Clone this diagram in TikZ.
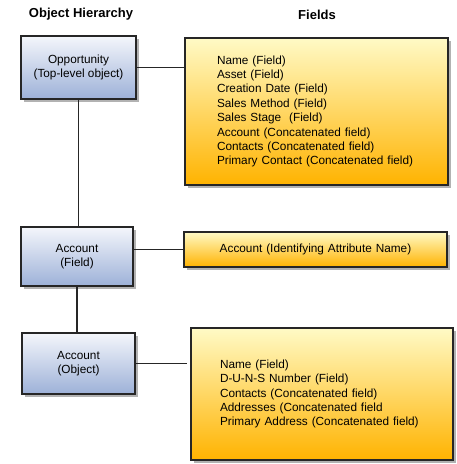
\documentclass[tikz,border=0pt]{standalone}
\usepackage{fontspec}
\setmainfont{Liberation Sans}
\usepackage{tikz}
\usetikzlibrary{shadows}

\definecolor{blauoben}{HTML}{F4F6FB}
\definecolor{blauunten}{HTML}{9DB1D8}
\definecolor{gelboben}{HTML}{FFFAC6}
\definecolor{gelbunten}{HTML}{FFB300}

\begin{document}
\begin{tikzpicture}[x=1pt, y=-1pt, % Pixelraster der Vorlage
  objbox/.style={draw=black!85, line width=1.2pt, top color=blauoben, bottom color=blauunten,
    drop shadow={shadow xshift=3pt, shadow yshift=-3pt, fill=black!30, opacity=1},
    align=center, inner sep=0pt, font=\fontsize{11.8}{14}\selectfont},
  feldbox/.style={draw=black!85, line width=1.2pt, top color=gelboben, bottom color=gelbunten,
    drop shadow={shadow xshift=3pt, shadow yshift=-3pt, fill=black!30, opacity=1},
    align=left, inner ysep=0pt, inner xsep=32pt, font=\fontsize{11.8}{14.4}\selectfont},
  titel/.style={anchor=base, font=\fontsize{13}{15}\selectfont\bfseries},
  verbindung/.style={line width=1.1pt, black!85}]

  \useasboundingbox (0,0) rectangle (456,464);

  % Ueberschriften
  \node[titel] (hierarchie) at (81, 17.5) {Object Hierarchy};
  \node[titel] (felder) at (317, 19.5) {Fields};

  % Objekte links
  \node[objbox, minimum width=115, minimum height=63] (opp) at (78.5, 67.5) {Opportunity\\(Top-level object)};
  \node[objbox, minimum width=112, minimum height=59] (accfeld) at (77, 256.5) {Account\\(Field)};
  \node[objbox, minimum width=113, minimum height=61] (accobj) at (78.5, 363.5) {Account\\(Object)};

  % Felder rechts
  \node[feldbox, text width=199, minimum height=147] (oppfelder) at (316.5, 111.5) {Name (Field)\\Asset (Field)\\Creation Date (Field)\\Sales Method (Field)\\Sales Stage~~(Field)\\Account (Concatenated field)\\Contacts (Concatenated field)\\Primary Contact (Concatenated field)};
  \node[feldbox, text width=263, inner xsep=0pt, align=center, minimum height=35] (accattr) at (315.5, 249.5) {Account (Identifying Attribute Name)};
  \node[feldbox, text width=204, inner xsep=29pt, minimum height=132] (accobjfelder) at (322, 394) {Name (Field)\\D-U-N-S Number (Field)\\Contacts (Concatenated field)\\Addresses (Concatenated field\\Primary Address (Concatenated field)};

  % Verbindungen
  \draw[verbindung] (opp.south) -- (opp.south |- accfeld.north);
  \draw[verbindung] (accfeld.south) -- (accfeld.south |- accobj.north);
  \draw[verbindung] (opp.east) -- (opp.east -| oppfelder.west);
  \draw[verbindung] (accattr.west -| accfeld.east) -- (accattr.west);
  \draw[verbindung, shorten >=3.5pt] (accobj.east) -- (accobj.east -| accobjfelder.west);
\end{tikzpicture}
\end{document}
